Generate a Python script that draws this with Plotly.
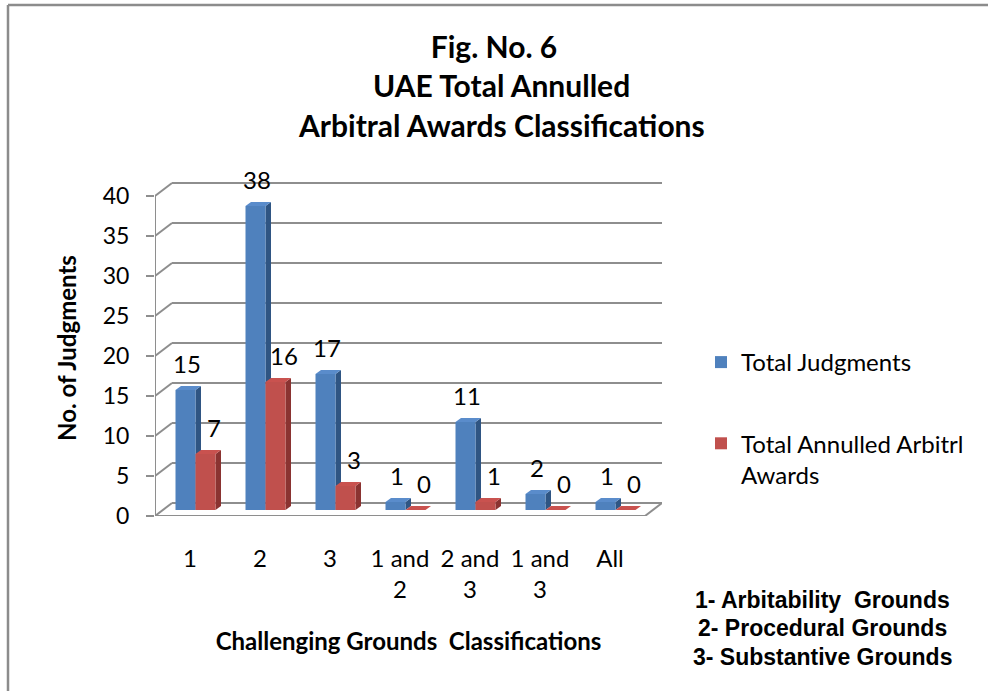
import plotly.graph_objects as go

# ---------------- data ----------------
categories = ["1", "2", "3", "1 and<br>2", "2 and<br>3", "1 and<br>3", "All"]
total_judgments = [15, 38, 17, 1, 11, 2, 1]
total_annulled = [7, 16, 3, 0, 1, 0, 0]
series_names = ["Total Judgments", "Total Annulled Arbitrl<br>Awards"]
y_ticks = [0, 5, 10, 15, 20, 25, 30, 35, 40]
title_lines = ["Fig. No. 6", "UAE Total Annulled", "Arbitral Awards Classifications"]
note_lines = ["1- Arbitability\u00a0 Grounds", "2- Procedural Grounds", "3- Substantive Grounds"]

# ---------------- geometry / style ----------------
W, H = 988, 691
ML, MR, MT, MB = 155, 326, 180, 175
PW, PH = W - ML - MR, H - MT - MB
PX_PER_CAT = 70.0
PX_PER_UNIT = 8.0
BACK_DX = 17 / PX_PER_CAT          # back wall offset (x units)
BACK_DY = 13 / PX_PER_UNIT         # back wall offset (y units)
BAR_BASE = 6 / PX_PER_UNIT         # bars stand in the middle of the depth
BAR_SHIFT = 5.5 / PX_PER_CAT
BAR_W = 20 / PX_PER_CAT
DEPTH_DX = 5.5 / PX_PER_CAT
DEPTH_DY = 4 / PX_PER_UNIT
GRID = "#8E8E8E"
FONT = "Lato"
FS = 24

BLUE, BLUE_TOP, BLUE_SIDE = "#4F81BD", "#5A8CCB", "#2F5583"
RED, RED_TOP, RED_SIDE = "#C0504D", "#C9524F", "#8A3331"

n = len(categories)
pos = list(range(n))
x_min, x_max = -0.5, n - 0.5
y_top = PH / PX_PER_UNIT


def px_x(px):
    return (px - ML) / PW


def px_y(py):
    return 1 - (py - MT) / PH


fig = go.Figure()
fig.add_trace(go.Bar(x=pos, y=total_judgments, base=BAR_BASE, offset=BAR_SHIFT - BAR_W,
                     width=BAR_W, marker=dict(color=BLUE, line=dict(width=0)),
                     name=series_names[0], legendgroup="a"))
fig.add_trace(go.Bar(x=pos, y=total_annulled, base=BAR_BASE, offset=BAR_SHIFT,
                     width=BAR_W, marker=dict(color=RED, line=dict(width=0)),
                     name=series_names[1], legendgroup="b"))

shapes = []
# back wall gridlines and left-wall diagonals
for v in y_ticks:
    shapes.append(dict(type="line", xref="x", yref="y", layer="below",
                       x0=x_min + BACK_DX, x1=x_max + BACK_DX, y0=v + BACK_DY, y1=v + BACK_DY,
                       line=dict(color=GRID, width=2)))
    shapes.append(dict(type="line", xref="x", yref="y", layer="below",
                       x0=x_min, x1=x_min + BACK_DX, y0=v, y1=v + BACK_DY,
                       line=dict(color=GRID, width=2)))
# front axis line, front floor edge, right floor diagonal
shapes.append(dict(type="line", xref="x", yref="y", layer="below", x0=x_min, x1=x_min,
                   y0=0, y1=max(y_ticks), line=dict(color=GRID, width=2)))
shapes.append(dict(type="line", xref="x", yref="y", layer="below", x0=x_min, x1=x_max,
                   y0=0, y1=0, line=dict(color=GRID, width=2)))
shapes.append(dict(type="line", xref="x", yref="y", layer="below", x0=x_max, x1=x_max + BACK_DX,
                   y0=0, y1=BACK_DY, line=dict(color=GRID, width=2)))
# category boundary tick marks
for i in range(n + 1):
    shapes.append(dict(type="line", xref="x", yref="y", ysizemode="pixel", yanchor=0,
                       x0=x_min + i, x1=x_min + i, y0=0, y1=-7, layer="below",
                       line=dict(color=GRID, width=2)))


def faces(xl, val, top_col, side_col):
    xr = xl + BAR_W
    b, t = BAR_BASE, BAR_BASE + val
    side = (f"M{xr},{b} L{xr},{t} L{xr + DEPTH_DX},{t + DEPTH_DY} "
            f"L{xr + DEPTH_DX},{b + DEPTH_DY} Z")
    top = (f"M{xl},{t} L{xl + DEPTH_DX},{t + DEPTH_DY} L{xr + DEPTH_DX},{t + DEPTH_DY} "
           f"L{xr},{t} Z")
    return [dict(type="path", path=side, xref="x", yref="y", layer="below",
                 fillcolor=side_col, line=dict(width=0)),
            dict(type="path", path=top, xref="x", yref="y", layer="below",
                 fillcolor=top_col, line=dict(width=0))]


for i, v in zip(pos, total_judgments):
    shapes += faces(i + BAR_SHIFT - BAR_W, v, BLUE_TOP, BLUE_SIDE)
for i, v in zip(pos, total_annulled):
    shapes += faces(i + BAR_SHIFT, v, RED_TOP, RED_SIDE)

# outer border (left and top edges visible)
shapes.append(dict(type="line", xref="paper", yref="paper", x0=px_x(8), x1=px_x(8),
                   y0=px_y(5), y1=px_y(H + 5), line=dict(color="#8C8C8C", width=2.5)))
shapes.append(dict(type="line", xref="paper", yref="paper", x0=px_x(8), x1=px_x(W + 5),
                   y0=px_y(5), y1=px_y(5), line=dict(color="#8C8C8C", width=2.5)))

annotations = []
# data labels
for i, v in zip(pos, total_judgments):
    annotations.append(dict(x=i + BAR_SHIFT - BAR_W / 2 + 1.5 / PX_PER_CAT, y=BAR_BASE + v,
                            xref="x", yref="y", text=str(v), showarrow=False, yshift=27,
                            xanchor="center", yanchor="middle",
                            font=dict(family=FONT, size=FS, color="black")))
for i, v in zip(pos, total_annulled):
    annotations.append(dict(x=i + BAR_SHIFT + BAR_W / 2 + 8 / PX_PER_CAT, y=BAR_BASE + v,
                            xref="x", yref="y", text=str(v), showarrow=False, yshift=27,
                            xanchor="center", yanchor="middle",
                            font=dict(family=FONT, size=FS, color="black")))
# title lines 2 and 3
for txt, yy in zip(title_lines[1:], [85, 125]):
    annotations.append(dict(x=px_x(501), y=px_y(yy), xref="paper", yref="paper", text=f"<b>{txt}</b>",
                            showarrow=False, xanchor="center", yanchor="middle",
                            font=dict(family=FONT, size=30, color="black")))
# grounds note
for txt, yy in zip(note_lines, [600, 628, 657]):
    annotations.append(dict(x=px_x(822), y=px_y(yy), xref="paper", yref="paper", text=f"<b>{txt}</b>",
                            showarrow=False, xanchor="center", yanchor="middle",
                            font=dict(family="Liberation Sans", size=23, color="black")))

fig.update_layout(
    width=W, height=H,
    margin=dict(l=ML, r=MR, t=MT, b=MB),
    paper_bgcolor="white", plot_bgcolor="white",
    title=dict(text=f"<b>{title_lines[0]}</b>", x=494 / W, xanchor="center", y=1 - 47 / H,
               yanchor="middle", xref="container", yref="container",
               font=dict(family=FONT, size=30, color="black")),
    barmode="overlay",
    showlegend=True,
    legend=dict(x=px_x(701), y=px_y(340), xanchor="left", yanchor="top",
                font=dict(family=FONT, size=FS, color="black"), tracegroupgap=47,
                valign="top", bgcolor="rgba(0,0,0,0)"),
    xaxis=dict(range=[x_min, x_max + BACK_DX], tickmode="array", tickvals=pos, ticktext=categories,
               showgrid=False, zeroline=False, showline=False, ticks="", ticklabelstandoff=26,
               tickfont=dict(family=FONT, size=FS, color="black"),
               title=dict(text="<b>Challenging Grounds\u00a0 Classifications</b>", standoff=30,
                          font=dict(family=FONT, size=FS, color="black"))),
    yaxis=dict(range=[0, y_top], tickmode="array", tickvals=y_ticks, showgrid=False,
               zeroline=False, showline=False, ticks="outside", ticklen=8, tickwidth=2,
               tickcolor=GRID, ticklabelstandoff=12,
               tickfont=dict(family=FONT, size=FS - 1, color="black"),
               title=dict(text="<b>No. of Judgments</b>", standoff=19,
                          font=dict(family=FONT, size=FS, color="black"))),
    shapes=shapes,
    annotations=annotations,
)

fig.write_html("out.html", config={"displayModeBar": False},
               post_script="document.body.style.margin='0';")
